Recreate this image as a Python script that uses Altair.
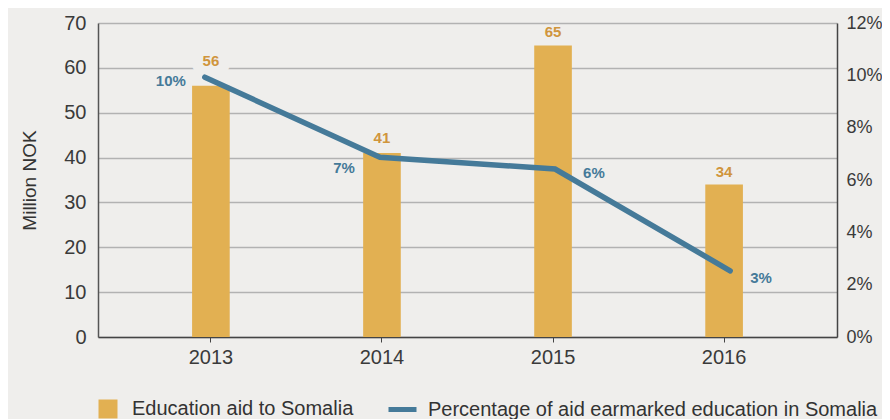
import altair as alt
import pandas as pd

# ---- data ----
years = ["2013", "2014", "2015", "2016"]
aid_million_nok = [56, 41, 65, 34]
aid_share = [0.0993, 0.0687, 0.0642, 0.0253]
aid_labels = ["56", "41", "65", "34"]
share_labels = ["10%", "7%", "6%", "3%"]
bar_series = "Education aid to Somalia"
line_series = "Percentage of aid earmarked education in Somalia"
left_ticks = [0, 10, 20, 30, 40, 50, 60, 70]
right_ticks = [0, 0.02, 0.04, 0.06, 0.08, 0.10, 0.12]

df = pd.DataFrame({
    "year": years,
    "aid": aid_million_nok,
    "share": aid_share,
    "aid_label": aid_labels,
    "share_label": share_labels,
    "bar_series": [bar_series] * len(years),
    "line_series": [line_series] * len(years),
})

# ---- styles ----
BG = "#EFEEEC"
ORANGE = "#E2B052"
ORANGE_TXT = "#D0953C"
BLUE = "#457A99"
FONT = "Liberation Sans"
bar_label_dy = [-25, -15, -13, -12]
line_label_pos = [("right", -19, 4), ("right", -25, 11), ("left", 28, 4), ("left", 20, 7)]

base = alt.Chart(df)

x_band = alt.X(
    "year:N",
    scale=alt.Scale(paddingInner=0.78, paddingOuter=0.55),
    axis=alt.Axis(title=None, labelAngle=0, ticks=True, tickSize=5, tickColor="#444",
                  domainColor="#444", domainWidth=1.5, labelPadding=5, grid=False),
)
y_left = alt.Y(
    "aid:Q",
    scale=alt.Scale(domain=[0, 70]),
    axis=alt.Axis(values=left_ticks, title="Million NOK", ticks=False, grid=True,
                  labelPadding=12, titlePadding=24, domainColor="#555", domainWidth=1.5),
)

bars = base.mark_bar().encode(
    x=x_band,
    y=y_left,
    color=alt.Color(
        "bar_series:N",
        scale=alt.Scale(domain=[bar_series], range=[ORANGE]),
        legend=alt.Legend(orient="none", legendX=0, legendY=376, title=None,
                          symbolType="square", symbolSize=361, symbolStrokeWidth=0,
                          labelOffset=14, padding=0),
    ),
)

halo = base.transform_filter(alt.datum.year == years[0]).mark_text(
    font=FONT, fontSize=15, fontWeight="bold", baseline="middle", dy=bar_label_dy[0],
    color=BG, stroke=BG, strokeWidth=22, strokeJoin="round",
).encode(x=alt.X("year:N"), y=alt.Y("aid:Q"), text="aid_label:N")

bar_labels = []
for i, yr in enumerate(years):
    bar_labels.append(
        base.transform_filter(alt.datum.year == yr).mark_text(
            font=FONT, fontSize=15, fontWeight="bold", baseline="middle",
            dy=bar_label_dy[i], color=ORANGE_TXT,
        ).encode(x=alt.X("year:N"), y=alt.Y("aid:Q"), text="aid_label:N")
    )

x_point = alt.X("year:N", scale=alt.Scale(type="point", padding=0.61), axis=None)
y_right = alt.Y(
    "share:Q",
    scale=alt.Scale(domain=[0, 0.12]),
    axis=alt.Axis(orient="right", values=right_ticks, format=".0%", title=None, grid=False,
                  ticks=False, labelPadding=9, labelFontSize=18,
                  domainColor="#444", domainWidth=1.5),
)

line = base.mark_line(strokeWidth=5.5, strokeCap="round").encode(
    x=x_point,
    y=y_right,
    stroke=alt.Stroke(
        "line_series:N",
        scale=alt.Scale(domain=[line_series], range=[BLUE]),
        legend=alt.Legend(orient="none", legendX=288, legendY=370, title=None,
                          symbolType="stroke", symbolSize=784, symbolStrokeWidth=5,
                          labelOffset=9, padding=0),
    ),
)

line_labels = []
for i, yr in enumerate(years):
    al, dx, dy = line_label_pos[i]
    line_labels.append(
        base.transform_filter(alt.datum.year == yr).mark_text(
            font=FONT, fontSize=15, fontWeight="bold", baseline="middle",
            align=al, dx=dx, dy=dy, color=BLUE,
        ).encode(x=alt.X("year:N"), y=alt.Y("share:Q"), text="share_label:N")
    )

chart = alt.layer(
    alt.layer(bars, halo, *bar_labels),
    alt.layer(line, *line_labels),
).resolve_scale(
    y="independent", x="independent"
).properties(
    width=739, height=314,
    autosize=alt.AutoSizeParams(type="none"),
    padding={"left": 90, "top": 15, "right": 45, "bottom": 82},
).configure(
    background=BG,
).configure_view(
    stroke=None, fill=BG,
).configure_axis(
    labelFont=FONT, titleFont=FONT, labelFontSize=20, titleFontSize=19,
    labelColor="#3A3A3A", titleColor="#333", titleFontWeight="normal",
    gridColor="#B2B2B2", gridWidth=1.5,
).configure_legend(
    labelFont=FONT, labelFontSize=20, labelColor="#333", labelLimit=0,
)

chart.save("out.html", embed_options={"renderer": "svg", "actions": False})
